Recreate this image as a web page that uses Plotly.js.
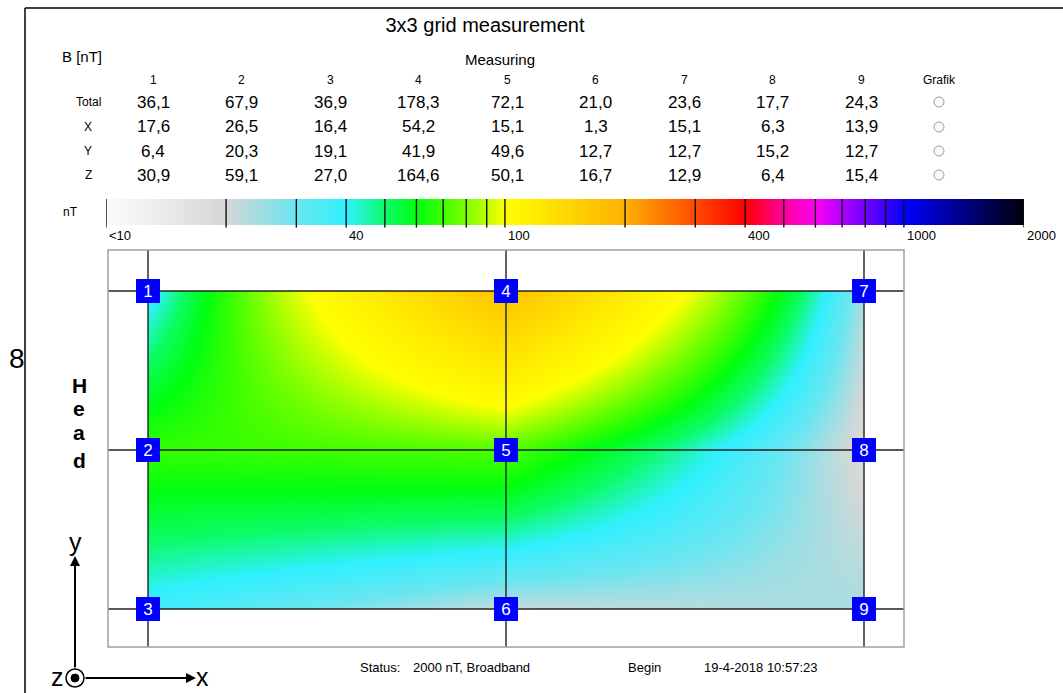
<!DOCTYPE html>
<html>
<head>
<meta charset="utf-8">
<script src="https://cdn.plot.ly/plotly-3.0.1.min.js"></script>
<style>
  html, body { margin: 0; padding: 0; background: #ffffff; }
  #chart { width: 1063px; height: 693px; }
</style>
</head>
<body>
<div id="chart"></div>
<script>
// Field values per measuring point (nT), points 1..9
const pointNames = ['1', '2', '3', '4', '5', '6', '7', '8', '9'];
const totalVals = [36.1, 67.9, 36.9, 178.3, 72.1, 21.0, 23.6, 17.7, 24.3];
const xVals     = [17.6, 26.5, 16.4, 54.2, 15.1, 1.3, 15.1, 6.3, 13.9];
const yVals     = [6.4, 20.3, 19.1, 41.9, 49.6, 12.7, 12.7, 15.2, 12.7];
const zVals     = [30.9, 59.1, 27.0, 164.6, 50.1, 16.7, 12.9, 6.4, 15.4];
const rowNames  = ['Total', 'X', 'Y', 'Z'];

// Grid position of each point: column 0..2 (left to right), row 0..2 (bottom to top)
const pointCol = [0, 0, 0, 1, 1, 1, 2, 2, 2];
const pointRow = [2, 1, 0, 2, 1, 0, 2, 1, 0];

// Colour scale (nT) and its labels
const scaleVals = [10, 20, 30, 40, 50, 60, 70, 80, 90, 100, 200, 300, 400, 500, 600, 700, 800, 900, 1000, 2000];
const scaleColors = ['#fbfbfb', '#d5d7d7', '#6ae6f0', '#30f0ff', '#0cfc68', '#00ff10', '#40ff00', '#80ff00',
                     '#c0ff00', '#ffff00', '#ffb000', '#ff4a00', '#ff0000', '#ff00a0', '#ff00f0', '#b000ff',
                     '#7000ff', '#3800ff', '#0000ff', '#000008'];
const scaleLabelVals = [10, 40, 100, 400, 1000, 2000];
const scaleLabelText = ['<10', '40', '100', '400', '1000', '2000'];

// ---- page geometry (pixels) ----
const W = 1063, H = 693;
const fx = p => p / W;
const fy = p => 1 - p / H;
const FONT = 'Liberation Sans, Arial, sans-serif';

// map area: frame box and grid line pixels
const frameL = 108, frameR = 904, frameT = 250, frameB = 647;
const gridL = 148, gridR = 864, gridT = 291, gridB = 609;
const ux = (gridR - gridL) / 2, uy = (gridB - gridT) / 2;
const xRange = [-(gridL - frameL) / ux, 2 + (frameR - gridR) / ux];
const yRange = [-(frameB - gridB) / uy, 2 + (gridT - frameT) / uy];

// ---- field map ----
const zGrid = [[null, null, null], [null, null, null], [null, null, null]];
totalVals.forEach((v, i) => { zGrid[pointRow[i]][pointCol[i]] = v; });

const zMin = scaleVals[0], zMax = scaleVals[scaleVals.length - 1];
const linScale = scaleVals.map((v, i) => [(v - zMin) / (zMax - zMin), scaleColors[i]]);
const lMin = Math.log10(zMin), lMax = Math.log10(zMax);
const logScale = scaleVals.map((v, i) => [(Math.log10(v) - lMin) / (lMax - lMin), scaleColors[i]]);

const mapTrace = {
  type: 'heatmap',
  x: [0, 1, 2], y: [0, 1, 2], z: zGrid,
  zsmooth: 'best', zmin: zMin, zmax: zMax,
  colorscale: linScale, showscale: false, hoverinfo: 'skip',
  xaxis: 'x', yaxis: 'y'
};

// ---- colour bar ----
const logVals = scaleVals.map(v => Math.log10(v));
const barTrace = {
  type: 'heatmap',
  x: logVals, y: [0, 1], z: [logVals, logVals],
  zsmooth: 'best', zmin: lMin, zmax: lMax,
  colorscale: logScale, showscale: false, hoverinfo: 'skip',
  xaxis: 'x2', yaxis: 'y2'
};

const shapes = [];
const annotations = [];

// outer frame
shapes.push({type: 'line', xref: 'paper', yref: 'paper', x0: fx(25), x1: fx(25), y0: fy(8), y1: fy(693),
             line: {color: '#000', width: 1.5}});
shapes.push({type: 'line', xref: 'paper', yref: 'paper', x0: fx(25), x1: fx(1063), y0: fy(8), y1: fy(8),
             line: {color: '#000', width: 1.5}});

// white margins inside the map frame
const white = {color: 'rgba(0,0,0,0)', width: 0};
shapes.push({type: 'rect', xref: 'x', yref: 'y domain', x0: xRange[0], x1: 0, y0: 0, y1: 1, fillcolor: '#fff', line: white, layer: 'above'});
shapes.push({type: 'rect', xref: 'x', yref: 'y domain', x0: 2, x1: xRange[1], y0: 0, y1: 1, fillcolor: '#fff', line: white, layer: 'above'});
shapes.push({type: 'rect', xref: 'x domain', yref: 'y', x0: 0, x1: 1, y0: 2, y1: yRange[1], fillcolor: '#fff', line: white, layer: 'above'});
shapes.push({type: 'rect', xref: 'x domain', yref: 'y', x0: 0, x1: 1, y0: yRange[0], y1: 0, fillcolor: '#fff', line: white, layer: 'above'});

// grid lines through the measuring points
[0, 1, 2].forEach(k => {
  shapes.push({type: 'line', xref: 'x', yref: 'y domain', x0: k, x1: k, y0: 0, y1: 1, line: {color: '#222', width: 1.4}, layer: 'above'});
  shapes.push({type: 'line', xref: 'x domain', yref: 'y', x0: 0, x1: 1, y0: k, y1: k, line: {color: '#222', width: 1.4}, layer: 'above'});
});
// map frame
shapes.push({type: 'rect', xref: 'x domain', yref: 'y domain', x0: 0, x1: 1, y0: 0, y1: 1,
             line: {color: '#a0a0a0', width: 1.5}, layer: 'above'});

// point markers
pointNames.forEach((n, i) => {
  annotations.push({xref: 'x', yref: 'y', x: pointCol[i], y: pointRow[i], text: n, showarrow: false,
    bgcolor: '#0000ff', width: 24, height: 24, borderpad: 0, borderwidth: 0,
    font: {family: FONT, size: 17, color: '#ffffff'}});
});

// colour bar tick lines and labels
logVals.forEach(lv => {
  shapes.push({type: 'line', xref: 'x2', yref: 'y2 domain', x0: lv, x1: lv, y0: -0.1, y1: 1,
               line: {color: '#111', width: 1.4}, layer: 'above'});
});
scaleLabelVals.forEach((v, i) => {
  annotations.push({xref: 'x2', yref: 'paper', x: Math.log10(v), y: fy(236), xanchor: 'left', yanchor: 'middle',
    xshift: 1, text: scaleLabelText[i], showarrow: false, font: {family: FONT, size: 13, color: '#000'}});
});

// ---- measurement table ----
const colPx = i => 153 + i * 88.5;
const rowPx = [102, 127, 151, 175];
const series = [totalVals, xVals, yVals, zVals];
const fmt = v => v.toFixed(1).replace('.', ',');
const txt = (x, y, text, size, opts) => Object.assign({xref: 'paper', yref: 'paper', x: fx(x), y: fy(y), text: text,
  showarrow: false, xanchor: 'center', yanchor: 'middle', font: {family: FONT, size: size, color: '#000'}}, opts || {});

annotations.push(txt(70, 212, 'nT', 12));
annotations.push(txt(82, 57, 'B [nT]', 15));
annotations.push(txt(500, 59, 'Measuring', 15));
pointNames.forEach((n, i) => annotations.push(txt(colPx(i), 80, n, 12)));
annotations.push(txt(939, 80, 'Grafik', 12));
rowNames.forEach((name, r) => {
  annotations.push(txt(88, rowPx[r], name, 12));
  series[r].forEach((v, c) => annotations.push(txt(colPx(c), rowPx[r], fmt(v), 17)));
  shapes.push({type: 'circle', xref: 'paper', yref: 'paper', x0: fx(934), x1: fx(944), y0: fy(rowPx[r] - 5), y1: fy(rowPx[r] + 5),
               line: {color: '#9a9a9a', width: 1}, fillcolor: '#fafafa'});
});

// ---- side and bottom labels ----
annotations.push(txt(17, 358, '8', 28));
['H', 'e', 'a', 'd'].forEach((ch, i) => {
  annotations.push(txt(79, [385, 408, 432, 460][i], ch, 21, {font: {family: FONT, size: 21, color: '#000', weight: 'bold'}}));
});
annotations.push(txt(358, 667, 'Status:', 13, {xanchor: 'left'}));
annotations.push(txt(411, 667, '2000 nT, Broadband', 13, {xanchor: 'left'}));
annotations.push(txt(626, 667, 'Begin', 13, {xanchor: 'left'}));
annotations.push(txt(702, 667, '19-4-2018 10:57:23', 13, {xanchor: 'left'}));

// ---- coordinate system symbol ----
const ox = 75, oy = 678;
annotations.push({xref: 'paper', yref: 'paper', x: fx(ox), y: fy(556), ax: 0, ay: 669 - 556, text: '',
  showarrow: true, arrowhead: 2, arrowsize: 1, arrowwidth: 2, arrowcolor: '#000'});
annotations.push({xref: 'paper', yref: 'paper', x: fx(196), y: fy(oy), ax: (ox + 9) - 196, ay: 0, text: '',
  showarrow: true, arrowhead: 2, arrowsize: 1, arrowwidth: 2, arrowcolor: '#000'});
shapes.push({type: 'circle', xref: 'paper', yref: 'paper', x0: fx(ox - 9), x1: fx(ox + 9), y0: fy(oy - 9), y1: fy(oy + 9),
             line: {color: '#000', width: 1.5}, fillcolor: '#fff'});
shapes.push({type: 'circle', xref: 'paper', yref: 'paper', x0: fx(ox - 4), x1: fx(ox + 4), y0: fy(oy - 4), y1: fy(oy + 4),
             line: {color: '#000', width: 1}, fillcolor: '#000'});
annotations.push(txt(75, 542, 'y', 25));
annotations.push(txt(202, 677, 'x', 25));
annotations.push(txt(57, 677, 'z', 25));

const hidden = {showgrid: false, zeroline: false, showticklabels: false, ticks: '', showline: false, fixedrange: true};

const layout = {
  width: W, height: H,
  margin: {l: 0, r: 0, t: 0, b: 0, pad: 0},
  paper_bgcolor: '#ffffff', plot_bgcolor: '#ffffff',
  showlegend: false,
  title: {text: '3x3 grid measurement', x: fx(485), xanchor: 'center', y: fy(25), yanchor: 'middle',
          font: {family: FONT, size: 20, color: '#000'}},
  xaxis: Object.assign({domain: [fx(frameL), fx(frameR)], range: xRange, anchor: 'y'}, hidden),
  yaxis: Object.assign({domain: [fy(frameB), fy(frameT)], range: yRange, anchor: 'x'}, hidden),
  xaxis2: Object.assign({domain: [fx(106), fx(1024)], range: [lMin, lMax], anchor: 'y2'}, hidden),
  yaxis2: Object.assign({domain: [fy(225), fy(199)], range: [-0.5, 1.5], anchor: 'x2'}, hidden),
  shapes: shapes,
  annotations: annotations
};

Plotly.newPlot('chart', [mapTrace, barTrace], layout, {staticPlot: true, displayModeBar: false});
</script>
</body>
</html>
